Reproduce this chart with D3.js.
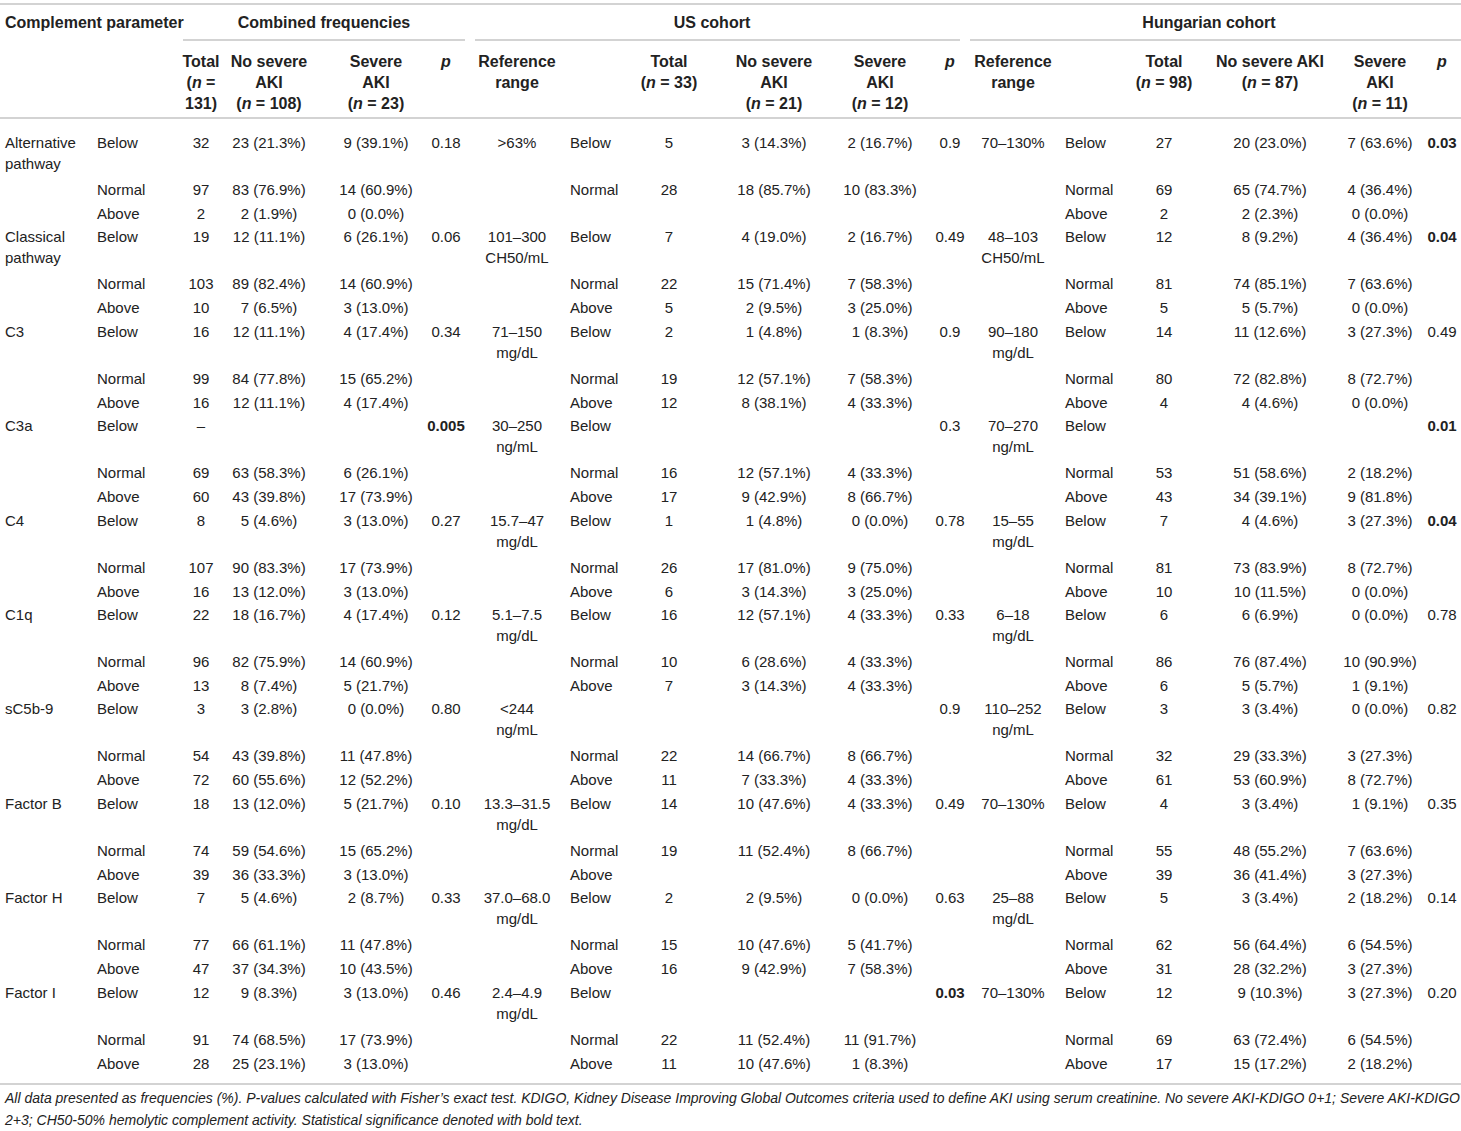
<!DOCTYPE html>
<html lang="en">
<head>
<meta charset="utf-8">
<title>Complement parameters by AKI severity</title>
<script src="https://d3js.org/d3.v7.min.js"></script>
<style>
body { margin: 0; background: #fff; }
svg text { font-family: "Liberation Sans", Arial, sans-serif; fill: #222; }
</style>
</head>
<body>
<div id="table"></div>
<script>
// ---- data ----
var params = ["Alternative pathway", "Classical pathway", "C3", "C3a", "C4", "C1q", "sC5b-9", "Factor B", "Factor H", "Factor I"];
var paramWrap = [["Alternative", "pathway"], ["Classical", "pathway"], ["C3"], ["C3a"], ["C4"], ["C1q"], ["sC5b-9"], ["Factor B"], ["Factor H"], ["Factor I"]];
var levels = ["Below", "Normal", "Above"];

// combined frequencies: total, no severe AKI [n, %], severe AKI [n, %], p
var combTotal = [[32, 97, 2], [19, 103, 10], [16, 99, 16], ["–", 69, 60], [8, 107, 16], [22, 96, 13], [3, 54, 72], [18, 74, 39], [7, 77, 47], [12, 91, 28]];
var combNo = [
  [[23, 21.3], [83, 76.9], [2, 1.9]], [[12, 11.1], [89, 82.4], [7, 6.5]], [[12, 11.1], [84, 77.8], [12, 11.1]],
  [null, [63, 58.3], [43, 39.8]], [[5, 4.6], [90, 83.3], [13, 12.0]], [[18, 16.7], [82, 75.9], [8, 7.4]],
  [[3, 2.8], [43, 39.8], [60, 55.6]], [[13, 12.0], [59, 54.6], [36, 33.3]], [[5, 4.6], [66, 61.1], [37, 34.3]],
  [[9, 8.3], [74, 68.5], [25, 23.1]]
];
var combSev = [
  [[9, 39.1], [14, 60.9], [0, 0.0]], [[6, 26.1], [14, 60.9], [3, 13.0]], [[4, 17.4], [15, 65.2], [4, 17.4]],
  [null, [6, 26.1], [17, 73.9]], [[3, 13.0], [17, 73.9], [3, 13.0]], [[4, 17.4], [14, 60.9], [5, 21.7]],
  [[0, 0.0], [11, 47.8], [12, 52.2]], [[5, 21.7], [15, 65.2], [3, 13.0]], [[2, 8.7], [11, 47.8], [10, 43.5]],
  [[3, 13.0], [17, 73.9], [3, 13.0]]
];
var combP = ["0.18", "0.06", "0.34", "0.005", "0.27", "0.12", "0.80", "0.10", "0.33", "0.46"];

// US cohort
var usRef = [[">63%"], ["101–300", "CH50/mL"], ["71–150", "mg/dL"], ["30–250", "ng/mL"], ["15.7–47", "mg/dL"], ["5.1–7.5", "mg/dL"], ["<244", "ng/mL"], ["13.3–31.5", "mg/dL"], ["37.0–68.0", "mg/dL"], ["2.4–4.9", "mg/dL"]];
var usLevels = [["Below", "Normal", ""], levels, levels, levels, levels, levels, ["", "Normal", "Above"], levels, levels, levels];
var usTotal = [[5, 28, null], [7, 22, 5], [2, 19, 12], [null, 16, 17], [1, 26, 6], [16, 10, 7], [null, 22, 11], [14, 19, null], [2, 15, 16], [null, 22, 11]];
var usNo = [
  [[3, 14.3], [18, 85.7], null], [[4, 19.0], [15, 71.4], [2, 9.5]], [[1, 4.8], [12, 57.1], [8, 38.1]],
  [null, [12, 57.1], [9, 42.9]], [[1, 4.8], [17, 81.0], [3, 14.3]], [[12, 57.1], [6, 28.6], [3, 14.3]],
  [null, [14, 66.7], [7, 33.3]], [[10, 47.6], [11, 52.4], null], [[2, 9.5], [10, 47.6], [9, 42.9]],
  [null, [11, 52.4], [10, 47.6]]
];
var usSev = [
  [[2, 16.7], [10, 83.3], null], [[2, 16.7], [7, 58.3], [3, 25.0]], [[1, 8.3], [7, 58.3], [4, 33.3]],
  [null, [4, 33.3], [8, 66.7]], [[0, 0.0], [9, 75.0], [3, 25.0]], [[4, 33.3], [4, 33.3], [4, 33.3]],
  [null, [8, 66.7], [4, 33.3]], [[4, 33.3], [8, 66.7], null], [[0, 0.0], [5, 41.7], [7, 58.3]],
  [null, [11, 91.7], [1, 8.3]]
];
var usP = ["0.9", "0.49", "0.9", "0.3", "0.78", "0.33", "0.9", "0.49", "0.63", "0.03"];

// Hungarian cohort
var huRef = [["70–130%"], ["48–103", "CH50/mL"], ["90–180", "mg/dL"], ["70–270", "ng/mL"], ["15–55", "mg/dL"], ["6–18", "mg/dL"], ["110–252", "ng/mL"], ["70–130%"], ["25–88", "mg/dL"], ["70–130%"]];
var huTotal = [[27, 69, 2], [12, 81, 5], [14, 80, 4], [null, 53, 43], [7, 81, 10], [6, 86, 6], [3, 32, 61], [4, 55, 39], [5, 62, 31], [12, 69, 17]];
var huNo = [
  [[20, 23.0], [65, 74.7], [2, 2.3]], [[8, 9.2], [74, 85.1], [5, 5.7]], [[11, 12.6], [72, 82.8], [4, 4.6]],
  [null, [51, 58.6], [34, 39.1]], [[4, 4.6], [73, 83.9], [10, 11.5]], [[6, 6.9], [76, 87.4], [5, 5.7]],
  [[3, 3.4], [29, 33.3], [53, 60.9]], [[3, 3.4], [48, 55.2], [36, 41.4]], [[3, 3.4], [56, 64.4], [28, 32.2]],
  [[9, 10.3], [63, 72.4], [15, 17.2]]
];
var huSev = [
  [[7, 63.6], [4, 36.4], [0, 0.0]], [[4, 36.4], [7, 63.6], [0, 0.0]], [[3, 27.3], [8, 72.7], [0, 0.0]],
  [null, [2, 18.2], [9, 81.8]], [[3, 27.3], [8, 72.7], [0, 0.0]], [[0, 0.0], [10, 90.9], [1, 9.1]],
  [[0, 0.0], [3, 27.3], [8, 72.7]], [[1, 9.1], [7, 63.6], [3, 27.3]], [[2, 18.2], [6, 54.5], [3, 27.3]],
  [[3, 27.3], [6, 54.5], [2, 18.2]]
];
var huP = ["0.03", "0.04", "0.49", "0.01", "0.04", "0.78", "0.82", "0.35", "0.14", "0.20"];

var footnote = [
  "All data presented as frequencies (%). P-values calculated with Fisher’s exact test. KDIGO, Kidney Disease Improving Global Outcomes criteria used to define AKI using serum creatinine. No severe AKI-KDIGO 0+1; Severe AKI-KDIGO",
  "2+3; CH50-50% hemolytic complement activity. Statistical significance denoted with bold text."
];

// ---- layout ----
var width = 1461, height = 1131;
var svg = d3.select("#table").append("svg").attr("width", width).attr("height", height);

var colKeys = ["param", "cLevel", "cTotal", "cNo", "cSev", "cP", "uRef", "uLevel", "uTotal", "uNo", "uSev", "uP", "hRef", "hLevel", "hTotal", "hNo", "hSev", "hP"];
var x = d3.scaleOrdinal().domain(colKeys)
  .range([5, 97, 201, 269, 376, 446, 517, 570, 669, 774, 880, 950, 1013, 1065, 1164, 1270, 1380, 1442]);
var anchor = function (k) { return (k === "param" || /Level$/.test(k)) ? "start" : "middle"; };

var block = d3.scaleLinear().domain([0, params.length]).range([148, 148 + 94.4 * params.length]);
var levelOffset = d3.scaleOrdinal().domain(levels).range([0, 47, 71]);
var lineH = 21;
var pct = d3.format(".1f");
var cellText = function (v) { return v ? v[0] + " (" + pct(v[1]) + "%)" : ""; };

function rule(y, x1, x2) {
  svg.append("line").attr("x1", x1).attr("x2", x2).attr("y1", y).attr("y2", y)
    .attr("stroke", "#c4c4c4").attr("stroke-width", 1.6);
}

// rules
rule(4, 0, width);
rule(40, 183, 465);
rule(40, 475, 960);
rule(40, 970, width);
rule(118, 0, width);
rule(1084, 0, width);

// group headers
var hdr = svg.append("g").attr("font-weight", "bold").attr("font-size", "16px");
hdr.append("text").attr("x", x("param")).attr("y", 28).text("Complement parameter");
[["Combined frequencies", 324], ["US cohort", 712], ["Hungarian cohort", 1209]].forEach(function (g) {
  hdr.append("text").attr("x", g[1]).attr("y", 28).attr("text-anchor", "middle").text(g[0]);
});

// sub headers; items: [col, lines]; "n=" lines get italic n
var sub = [
  ["cTotal", ["Total", "(n =", "131)"]], ["cNo", ["No severe", "AKI", "(n = 108)"]], ["cSev", ["Severe", "AKI", "(n = 23)"]], ["cP", ["p"]],
  ["uRef", ["Reference", "range"]], ["uTotal", ["Total", "(n = 33)"]], ["uNo", ["No severe", "AKI", "(n = 21)"]], ["uSev", ["Severe", "AKI", "(n = 12)"]], ["uP", ["p"]],
  ["hRef", ["Reference", "range"]], ["hTotal", ["Total", "(n = 98)"]], ["hNo", ["No severe AKI", "(n = 87)"]], ["hSev", ["Severe", "AKI", "(n = 11)"]], ["hP", ["p"]]
];
sub.forEach(function (s) {
  s[1].forEach(function (line, i) {
    var t = hdr.append("text").attr("x", x(s[0])).attr("y", 67 + i * lineH).attr("text-anchor", "middle");
    if (line === "p") {
      t.attr("font-style", "italic").text("p");
    } else if (line.indexOf("(n") === 0) {
      t.append("tspan").text("(");
      t.append("tspan").attr("font-style", "italic").text("n");
      t.append("tspan").text(line.slice(2));
    } else {
      t.text(line);
    }
  });
});

// body
var body = svg.append("g").attr("font-size", "15px");
function put(key, y, txt, bold) {
  if (txt === null || txt === undefined || txt === "") return;
  body.append("text").attr("x", x(key)).attr("y", y).attr("text-anchor", anchor(key))
    .attr("font-weight", bold ? "bold" : null).text(txt);
}
function putLines(key, y, arr) {
  arr.forEach(function (t, i) { put(key, y + i * lineH, t); });
}

params.forEach(function (p, i) {
  var y0 = block(i);
  putLines("param", y0, paramWrap[i]);
  putLines("uRef", y0, usRef[i]);
  putLines("hRef", y0, huRef[i]);
  put("cP", y0, combP[i], +combP[i] < 0.05);
  put("uP", y0, usP[i], +usP[i] < 0.05);
  put("hP", y0, huP[i], +huP[i] < 0.05);
  levels.forEach(function (lv, j) {
    var y = y0 + levelOffset(lv);
    put("cLevel", y, lv);
    put("cTotal", y, combTotal[i][j]);
    put("cNo", y, cellText(combNo[i][j]));
    put("cSev", y, cellText(combSev[i][j]));
    put("uLevel", y, usLevels[i][j]);
    put("uTotal", y, usTotal[i][j]);
    put("uNo", y, cellText(usNo[i][j]));
    put("uSev", y, cellText(usSev[i][j]));
    put("hLevel", y, lv);
    put("hTotal", y, huTotal[i][j]);
    put("hNo", y, cellText(huNo[i][j]));
    put("hSev", y, cellText(huSev[i][j]));
  });
});

// footnote
svg.append("g").attr("font-size", "14px").attr("font-style", "italic")
  .selectAll("text").data(footnote).join("text")
  .attr("x", 5).attr("y", function (d, i) { return 1103 + i * 22; })
  .text(function (d) { return d; });
</script>
</body>
</html>
